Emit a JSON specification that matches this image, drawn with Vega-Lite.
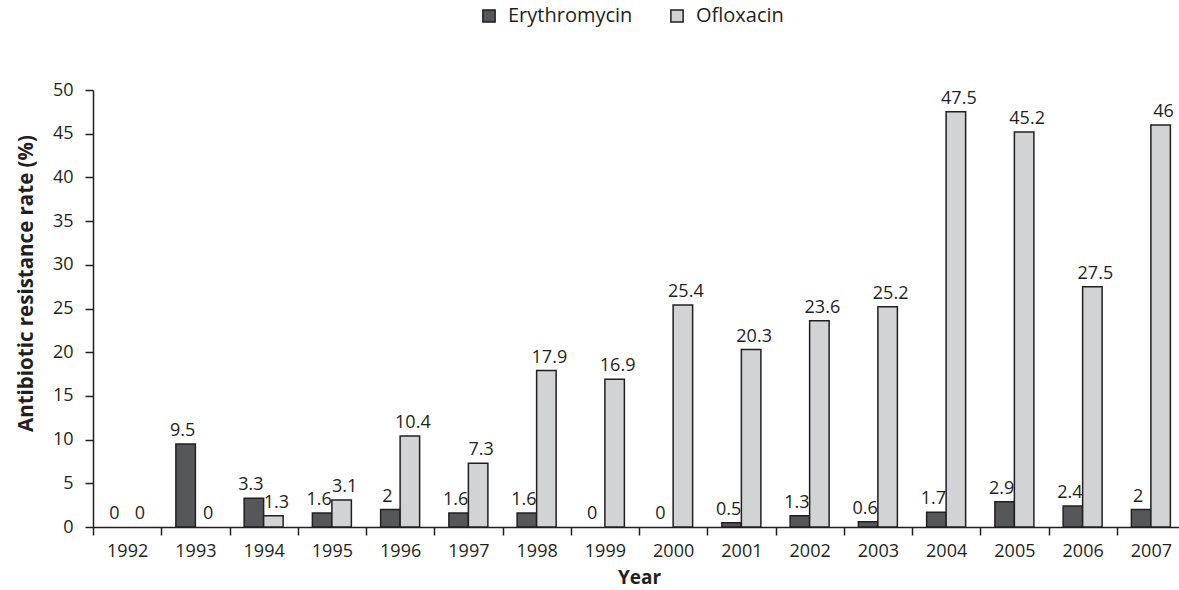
{
  "$schema": "https://vega.github.io/schema/vega-lite/v6.json",
  "autosize": {"type": "none"},
  "width": 1086,
  "height": 437,
  "padding": {"left": 93, "top": 90, "right": 0, "bottom": 63},
  "background": "white",
  "config": {
    "font": "Open Sans",
    "view": {"stroke": null},
    "axis": {
      "domainColor": "#231f20",
      "domainWidth": 1.5,
      "tickColor": "#231f20",
      "tickWidth": 1.5,
      "tickSize": 8,
      "labelColor": "#231f20",
      "labelFontSize": 18,
      "titleColor": "#231f20",
      "titleFontWeight": "bold",
      "grid": false
    }
  },
  "data": {
    "values": [
      {"year": "1992", "drug": "Erythromycin", "value": 0},
      {"year": "1993", "drug": "Erythromycin", "value": 9.5},
      {"year": "1994", "drug": "Erythromycin", "value": 3.3},
      {"year": "1995", "drug": "Erythromycin", "value": 1.6},
      {"year": "1996", "drug": "Erythromycin", "value": 2},
      {"year": "1997", "drug": "Erythromycin", "value": 1.6},
      {"year": "1998", "drug": "Erythromycin", "value": 1.6},
      {"year": "1999", "drug": "Erythromycin", "value": 0},
      {"year": "2000", "drug": "Erythromycin", "value": 0},
      {"year": "2001", "drug": "Erythromycin", "value": 0.5},
      {"year": "2002", "drug": "Erythromycin", "value": 1.3},
      {"year": "2003", "drug": "Erythromycin", "value": 0.6},
      {"year": "2004", "drug": "Erythromycin", "value": 1.7},
      {"year": "2005", "drug": "Erythromycin", "value": 2.9},
      {"year": "2006", "drug": "Erythromycin", "value": 2.4},
      {"year": "2007", "drug": "Erythromycin", "value": 2},
      {"year": "1992", "drug": "Ofloxacin", "value": 0},
      {"year": "1993", "drug": "Ofloxacin", "value": 0},
      {"year": "1994", "drug": "Ofloxacin", "value": 1.3},
      {"year": "1995", "drug": "Ofloxacin", "value": 3.1},
      {"year": "1996", "drug": "Ofloxacin", "value": 10.4},
      {"year": "1997", "drug": "Ofloxacin", "value": 7.3},
      {"year": "1998", "drug": "Ofloxacin", "value": 17.9},
      {"year": "1999", "drug": "Ofloxacin", "value": 16.9},
      {"year": "2000", "drug": "Ofloxacin", "value": 25.4},
      {"year": "2001", "drug": "Ofloxacin", "value": 20.3},
      {"year": "2002", "drug": "Ofloxacin", "value": 23.6},
      {"year": "2003", "drug": "Ofloxacin", "value": 25.2},
      {"year": "2004", "drug": "Ofloxacin", "value": 47.5},
      {"year": "2005", "drug": "Ofloxacin", "value": 45.2},
      {"year": "2006", "drug": "Ofloxacin", "value": 27.5},
      {"year": "2007", "drug": "Ofloxacin", "value": 46}
    ]
  },
  "encoding": {
    "x": {
      "field": "year",
      "type": "nominal",
      "scale": {"range": [0, 1092], "paddingInner": 0, "paddingOuter": 0},
      "axis": {"title": "Year", "titleFontSize": 19, "labelAngle": 0, "tickBand": "extent", "labelPadding": 7, "titlePadding": 8}
    },
    "xOffset": {"field": "drug", "type": "nominal", "scale": {"paddingInner": 0, "paddingOuter": 0.75}},
    "y": {
      "field": "value",
      "type": "quantitative",
      "scale": {"domain": [0, 50], "nice": false},
      "axis": {"title": "Antibiotic resistance rate (%)", "titleFontSize": 20.5, "titleY": 193, "values": [0, 5, 10, 15, 20, 25, 30, 35, 40, 45, 50], "labelPadding": 12, "titlePadding": 16}
    }
  },
  "layer": [
    {
      "transform": [{"filter": "datum.value > 0"}],
      "mark": {"type": "bar", "stroke": "#231f20", "strokeWidth": 1.5},
      "encoding": {
        "color": {
          "field": "drug",
          "type": "nominal",
          "scale": {"domain": ["Erythromycin", "Ofloxacin"], "range": ["#55575a", "#d1d3d4"]},
          "legend": {
            "title": null,
            "orient": "none",
            "direction": "horizontal",
            "legendX": 386,
            "legendY": -84,
            "symbolType": "square",
            "symbolSize": 150,
            "symbolStrokeColor": "#231f20",
            "symbolStrokeWidth": 1.5,
            "symbolOpacity": 1,
            "labelFontSize": 20,
            "labelColor": "#231f20",
            "labelOffset": 9,
            "columnPadding": 34
          }
        }
      }
    },
    {
      "mark": {"type": "text", "baseline": "bottom", "dy": -4, "dx": {"expr": "datum.drug === 'Erythromycin' ? -3 : 3"}, "fontSize": 18, "color": "#231f20"},
      "encoding": {"text": {"field": "value", "type": "quantitative"}}
    }
  ]
}
